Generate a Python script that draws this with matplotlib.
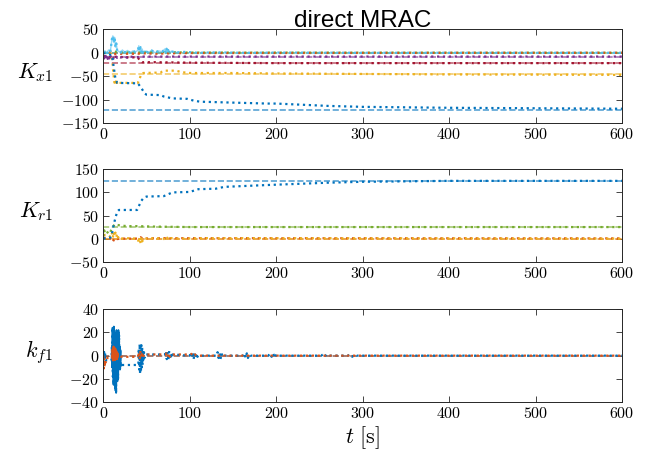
import numpy as np
import matplotlib.pyplot as plt
from matplotlib.ticker import FuncFormatter

plt.rcParams['mathtext.fontset'] = 'cm'

# MATLAB default line colours
c_blue, c_orange, c_yellow = '#0072BD', '#D95319', '#EDB120'
c_purple, c_green, c_cyan, c_dred = '#7E2F8E', '#77AC30', '#4DBEEE', '#A2142F'

# ---- K_x1 : estimates (dotted) and ideal gains (dashed)
kx_blue_t = [0, 10, 12, 14, 16, 40, 44, 48, 50, 66, 70, 80, 97, 105, 112, 150, 190, 200, 260, 300, 400, 500, 600]
kx_blue_v = [0, -5, -30, -55, -64, -65, -75, -87, -89, -90, -93, -97, -98, -102, -104, -106, -108, -108, -113, -115, -117, -118, -119]
kx_yellow_t = [0, 9, 10.5, 12, 13, 13.5, 14, 14.5, 15, 15.5, 16, 16.5, 17, 40, 42, 44, 46, 66, 70, 84, 90, 100, 150, 200, 300, 400, 600]
kx_yellow_v = [0, -2, -20, -50, -66, -60, -68, -61, -67, -62, -66, -63, -64, -64, -55, -45, -43, -42, -38, -38, -41, -43, -43, -44, -45, -46, -47]
kx_dred_t = [0, 5, 10, 20, 40, 42, 45, 60, 100, 200, 600]
kx_dred_v = [-6, -10, -8, -9, -10, -16, -20, -20, -21, -22, -22]
kx_purple_t = [0, 1, 2, 3, 4, 5, 6, 7, 8, 9, 10, 12, 14, 16, 18, 20, 24, 28, 32, 36, 40, 45, 60, 100, 600]
kx_purple_v = [2, -12, -3, -14, -5, -13, -6, -12, -4, -11, -7, -12, -6, -11, -8, -10, -7, -11, -8, -10, -9, -8, -8, -8, -8]
kx_cyan_t = [0, 2, 4, 6, 8, 9, 10, 11, 12, 13, 14, 15, 16, 18, 20, 22, 25, 28, 31, 34, 37, 40, 41, 42, 43, 44, 45,
             46, 48, 52, 56, 60, 64, 68, 71, 72, 73, 74, 75, 76, 78, 85, 95, 110, 130, 160, 200, 300, 600]
kx_cyan_v = [0, 4, -2, 6, 3, 15, 30, 36, 22, 33, 12, 20, 5, 3, 0, 6, 1, 5, 0, 4, 2, 5, 15, 3, 12, 2, 8,
             0, 4, 1, 5, 0, 4, 2, 8, 1, 10, 2, 6, 0, 3, 1, 2, 0, 1, 0, 0.5, 0, 0]
kx_orange_t = [0, 5, 10, 12, 15, 40, 45, 60, 80, 100, 600]
kx_orange_v = [0, 3, 0, -3, -2, -2, -1, -2, -1, -0.5, 0]
kx_green_t = [0, 5, 10, 15, 20, 40, 60, 100, 600]
kx_green_v = [0, 2, 4, 2, 1, 1, 2, 0.5, 0]
kx_ideal = {c_blue: -121, c_orange: 0, c_yellow: -46, c_purple: -8, c_green: 0, c_cyan: 0, c_dred: -22}

# ---- K_r1
kr_blue_t = [0, 8, 10, 12, 14, 16, 18, 39, 41, 44, 47, 50, 70, 75, 80, 100, 105, 110, 130, 140, 190, 260, 300, 350, 400, 600]
kr_blue_v = [0, 2, 10, 30, 45, 58, 62, 62, 70, 82, 89, 91, 92, 96, 100, 101, 104, 107, 108, 112, 116, 121, 123, 124, 125, 125]
kr_orange_t = [0, 5, 8, 10, 11, 12, 14, 16, 20, 40, 43, 46, 60, 600]
kr_orange_v = [2, 1, 0, -4, -7, -3, 1, -1, 0, 0, 3, 0, 1, 0.5]
kr_yellow_t = [0, 5, 9, 10, 11, 12, 13, 14, 15, 16, 17, 18, 20, 25, 40, 41, 42, 43, 44, 45, 47, 50, 60, 70,
               72, 74, 76, 78, 90, 120, 600]
kr_yellow_v = [8, 8, 3, 12, 2, 14, 5, 13, 4, 10, 2, 5, 0, 1, 0, -9, 2, -10, 3, -6, 1, 0, 1, 0,
               -4, 2, -3, 1, 0, 1, 0]
kr_green_t = [0, 1, 2, 4, 6, 8, 10, 12, 13, 15, 18, 20, 30, 40, 60, 100, 600]
kr_green_v = [5, 18, 12, 16, 10, 14, 22, 28, 31, 30, 29, 28, 27, 27, 26, 25, 25]
kr_ideal = {c_blue: 125, c_orange: 0, c_yellow: 0, c_green: 25}

# ---- k_f1 : (t_start, t_end, values) pieces
kf_blue_segs = [
    (0, 3, [4, -5, 3, -4, 2, -3, -4]),
    (9.5, 20.5, [-4, 8, -10, 24, -18, 20, -25, 25, -20, 15, -26, 18, -30, 10, -32, 22, -15, 21, -22, 14,
                 -20, 22, -12, 18, -10, 8, -12, 5, -9, -8]),
    (40.5, 48, [-8, 6, -12, 10, -16, 8, -14, 9, -10, 7, -8, 4, -5, 3, -2, 1]),
    (71.5, 80, [1, 4, -3, 3, -4, 4, -3, 2, -2, 1]),
    (100, 110, [0, 3, -2, 3, -3, 2, -2, 2, -1, 0]),
    (131, 139, [0, 3, -2, 2, -3, 2, -1, 0]),
    (162, 170, [0, 2, -2, 2, -2, 1, 0]),
    (191, 202, [0, 2, -1, 2, -2, 1, 0]),
    (252, 260, [0, 1, -1, 1, 0]),
    (283, 293, [0, 1, -1, 1, 0]),
    (600, 600, [0]),
]
kf_orange_segs = [
    (0, 3, [0, -11, -2, -10, -4, -6, -2]),
    (10, 17, [-2, 5, -4, 8, -3, 7, -4, 6, -2, 4, -3, 2, -1]),
    (40, 47, [-1, 3, -3, 4, -2, 2, -1, 1]),
    (72, 78, [1, 2, -1, 2, -1, 1]),
    (100, 108, [1, 1.5, -0.5, 1, 0]),
    (600, 600, [0]),
]
kf_ideal = {c_blue: 0, c_orange: 0}

xticks = [0, 100, 200, 300, 400, 500, 600]


def from_segs(segs):
    t, v = [], []
    for t0, t1, vals in segs:
        t.extend(np.linspace(t0, t1, len(vals)))
        v.extend(vals)
    return t, v


def style(ax, ylim, yticks, label):
    ax.set_xlim(0, 600)
    ax.set_ylim(*ylim)
    ax.set_xticks(xticks)
    ax.set_yticks(yticks)
    fmt = FuncFormatter(lambda v, p: f'${v:g}$')
    ax.xaxis.set_major_formatter(fmt)
    ax.yaxis.set_major_formatter(fmt)
    ax.tick_params(direction='in', length=4, width=0.6, top=True, right=True, labelsize=11.5, pad=3,
                   color='#262626')
    for s in ax.spines.values():
        s.set_linewidth(0.7)
        s.set_color('#262626')
    ax.text(-0.097, 0.54, label, transform=ax.transAxes, ha='right', va='center', fontsize=16)


def draw(ax, series, ideal):
    for col, val in ideal.items():
        ax.plot([0, 600], [val, val], '--', color=col, lw=1.2, alpha=0.65)
    for t, v, col in series:
        ax.plot(t, v, ':', color=col, lw=1.6)


fig = plt.figure(figsize=(6.54, 4.55), dpi=100)
ax1 = fig.add_axes([0.158, 0.729, 0.793, 0.2066])
ax2 = fig.add_axes([0.158, 0.4248, 0.793, 0.2031])
ax3 = fig.add_axes([0.158, 0.1158, 0.793, 0.2051])

draw(ax1, [(kx_green_t, kx_green_v, c_green), (kx_orange_t, kx_orange_v, c_orange),
           (kx_cyan_t, kx_cyan_v, c_cyan), (kx_dred_t, kx_dred_v, c_dred),
           (kx_purple_t, kx_purple_v, c_purple), (kx_yellow_t, kx_yellow_v, c_yellow),
           (kx_blue_t, kx_blue_v, c_blue)], kx_ideal)
# the noisy early part of the cyan gain reads as a solid band
ax1.plot(kx_cyan_t[:42], kx_cyan_v[:42], '-', color=c_cyan, lw=1.0, alpha=0.6)
style(ax1, (-150, 50), [-150, -100, -50, 0, 50], r'$K_{x1}$')
ax1.set_title('direct MRAC', fontsize=17.5, family='Liberation Sans', pad=2)

draw(ax2, [(kr_orange_t, kr_orange_v, c_orange), (kr_yellow_t, kr_yellow_v, c_yellow),
           (kr_green_t, kr_green_v, c_green), (kr_blue_t, kr_blue_v, c_blue)], kr_ideal)
style(ax2, (-50, 150), [-50, 0, 50, 100, 150], r'$K_{r1}$')

kf_bt, kf_bv = from_segs(kf_blue_segs)
kf_ot, kf_ov = from_segs(kf_orange_segs)
for col, val in kf_ideal.items():
    ax3.plot([0, 600], [val, val], '--', color=col, lw=1.2, alpha=0.65)
ax3.plot(kf_bt, kf_bv, ':', color=c_blue, lw=1.6)
ax3.plot(kf_bt[7:37], kf_bv[7:37], '-', color=c_blue, lw=1.2)
ax3.plot(kf_ot, kf_ov, ':', color=c_orange, lw=1.6)
ax3.plot(kf_ot[7:20], kf_ov[7:20], '-', color=c_orange, lw=1.2)
style(ax3, (-40, 40), [-40, -20, 0, 20, 40], r'$k_{f1}$')
ax3.set_xlabel(r'$t\ [\mathrm{s}]$', fontsize=16, labelpad=2)

fig.savefig('out.png', dpi=100)
